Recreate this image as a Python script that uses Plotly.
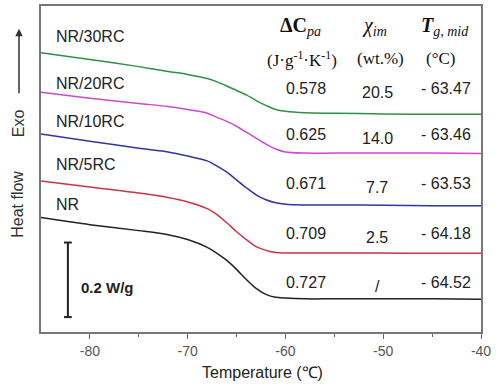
import plotly.graph_objects as go

# ---------------- data ----------------
temperature = [-85, -80, -75, -72, -70, -68, -67, -66, -65, -64, -63, -62, -61, -60, -58, -55, -50, -45, -40]

# stacked heat flow (W/g, curves offset vertically)
hf_nr   = [0.307, 0.288, 0.272, 0.261, 0.248, 0.227, 0.211, 0.192, 0.168, 0.141, 0.117, 0.101, 0.093, 0.091, 0.089, 0.089, 0.089, 0.089, 0.088]
hf_nr5  = [0.405, 0.389, 0.373, 0.361, 0.349, 0.331, 0.315, 0.293, 0.269, 0.248, 0.229, 0.219, 0.213, 0.212, 0.212, 0.212, 0.212, 0.211, 0.211]
hf_nr10 = [0.531, 0.512, 0.493, 0.483, 0.472, 0.459, 0.445, 0.429, 0.408, 0.387, 0.368, 0.355, 0.347, 0.343, 0.341, 0.341, 0.340, 0.339, 0.339]
hf_nr20 = [0.643, 0.627, 0.613, 0.605, 0.597, 0.587, 0.576, 0.565, 0.552, 0.536, 0.520, 0.504, 0.491, 0.483, 0.480, 0.480, 0.480, 0.480, 0.479]
hf_nr30 = [0.749, 0.731, 0.712, 0.699, 0.691, 0.680, 0.671, 0.660, 0.648, 0.636, 0.621, 0.608, 0.597, 0.592, 0.588, 0.587, 0.585, 0.584, 0.584]

series_names = ["NR", "NR/5RC", "NR/10RC", "NR/20RC", "NR/30RC"]
series_values = [hf_nr, hf_nr5, hf_nr10, hf_nr20, hf_nr30]
series_colors = ["#222222", "#cc3344", "#3434a6", "#cc48cc", "#2f9048"]

dcp_values = ["0.727", "0.709", "0.671", "0.625", "0.578"]
chi_values = ["/", "2.5", "7.7", "14.0", "20.5"]
tg_values = ["- 64.52", "- 64.18", "- 63.53", "- 63.46", "- 63.47"]

x_tickvals = [-80, -70, -60, -50, -40]
x_ticktext = ["-80", "-70", "-60", "-50", "-40"]
x_minor = [-75, -65, -55, -45]

scale_bar_value = 0.2  # W/g

# ---------------- layout helpers ----------------
W, H = 500, 386
L, R, T, B = 41, 481, 4, 332
YMAX = (B - T) * 0.2 / 75.0


def px(x):  # pixel x -> paper
    return (x - L) / (R - L)


def py(y):  # pixel y -> paper
    return (B - y) / (B - T)


fig = go.Figure()
for name, vals, col in zip(series_names, series_values, series_colors):
    fig.add_trace(go.Scatter(x=temperature, y=vals, mode="lines", name=name,
                             line=dict(color=col, width=1.5, shape="spline", smoothing=0.8),
                             showlegend=False, hoverinfo="skip"))

ann = []
sans = "Liberation Sans, Arial, sans-serif"
serif = "Liberation Serif, Times New Roman, serif"

# series labels (left)
label_rows = [204, 163, 120, 82, 35]
for name, yy in zip(series_names, label_rows):
    ann.append(dict(x=px(54), y=py(yy), xref="paper", yref="paper", text=name, showarrow=False,
                    xanchor="left", yanchor="middle", font=dict(family=sans, size=16, color="#222")))

# table values
value_rows = [282, 233, 183, 133, 87]
for d, c, t, yy in zip(dcp_values, chi_values, tg_values, value_rows):
    ann.append(dict(x=px(306), y=py(yy), xref="paper", yref="paper", text=d, showarrow=False,
                    xanchor="center", yanchor="middle", font=dict(family=sans, size=16, color="#222")))
    ann.append(dict(x=px(377), y=py(yy + 4), xref="paper", yref="paper", text=c, showarrow=False,
                    xanchor="center", yanchor="middle", font=dict(family=sans, size=16, color="#222")))
    ann.append(dict(x=px(446), y=py(yy), xref="paper", yref="paper", text=t, showarrow=False,
                    xanchor="center", yanchor="middle", font=dict(family=sans, size=16, color="#222")))

# table headers
headers1 = [(300, "<b>ΔC</b><sub><i>pa</i></sub>"), (374, "<i>χ</i><sub><i>im</i></sub>"),
            (445, "<b><i>T</i></b><sub><i>g, mid</i></sub>")]
headers2 = [(302, "(J·g<sup>-1</sup>·K<sup>-1</sup>)"), (380, "(wt.%)"), (440, "(°C)")]
for xx, tx in headers1:
    ann.append(dict(x=px(xx), y=py(25), xref="paper", yref="paper", text=tx, showarrow=False,
                    xanchor="center", yanchor="middle", font=dict(family=serif, size=20, color="#111")))
for xx, tx in headers2:
    ann.append(dict(x=px(xx), y=py(57), xref="paper", yref="paper", text=tx, showarrow=False,
                    xanchor="center", yanchor="middle", font=dict(family=serif, size=17, color="#111")))

# y-axis text and arrow
ann.append(dict(x=px(18), y=py(204), xref="paper", yref="paper", text="Heat flow", showarrow=False,
                textangle=-90, xanchor="center", yanchor="middle", font=dict(family=sans, size=16, color="#333")))
ann.append(dict(x=px(18), y=py(122), xref="paper", yref="paper", text="Exo", showarrow=False,
                textangle=-90, xanchor="center", yanchor="middle", font=dict(family=sans, size=16, color="#333")))
ann.append(dict(x=px(19), y=py(27), xref="paper", yref="paper", ax=0, ay=66, axref="pixel", ayref="pixel",
                text="", showarrow=True, arrowhead=2, arrowsize=1, arrowwidth=1.5, arrowcolor="#333"))

# x title
ann.append(dict(x=px(262), y=py(373), xref="paper", yref="paper", text="Temperature (℃)", showarrow=False,
                xanchor="center", yanchor="middle", font=dict(family=sans, size=16, color="#222")))

# scale bar label
ann.append(dict(x=px(79), y=py(287), xref="paper", yref="paper", text="<b>0.2 W/g</b>", showarrow=False,
                xanchor="left", yanchor="middle", font=dict(family=sans, size=15, color="#222")))

# scale bar shapes (data units for its length)
bar_x = -82.25
bar_bottom = 0.04
bar_top = bar_bottom + scale_bar_value
shapes = [
    dict(type="line", x0=bar_x, x1=bar_x, y0=bar_bottom, y1=bar_top, xref="x", yref="y",
         line=dict(color="#222", width=2)),
    dict(type="line", x0=bar_x - 0.4, x1=bar_x + 0.4, y0=bar_top, y1=bar_top, xref="x", yref="y",
         line=dict(color="#222", width=2)),
    dict(type="line", x0=bar_x - 0.4, x1=bar_x + 0.4, y0=bar_bottom, y1=bar_bottom, xref="x", yref="y",
         line=dict(color="#222", width=2)),
]

fig.update_layout(
    width=W, height=H,
    margin=dict(l=L, r=W - R, t=T, b=H - B, pad=0),
    paper_bgcolor="white", plot_bgcolor="white",
    annotations=ann, shapes=shapes,
    xaxis=dict(range=[-85, -40], tickvals=x_tickvals, ticktext=x_ticktext, ticks="outside", ticklen=5,
               tickwidth=1.2, tickcolor="#666", showline=True, linecolor="#777", linewidth=1.5, mirror=True,
               showgrid=False, zeroline=False, tickfont=dict(family=sans, size=14, color="#555"),
               minor=dict(tickvals=x_minor, ticks="outside", ticklen=3, tickcolor="#666", tickwidth=1.2)),
    yaxis=dict(range=[0, YMAX], showticklabels=False, ticks="", showline=True, linecolor="#777",
               linewidth=1.5, mirror=True, showgrid=False, zeroline=False),
)

fig.write_html("out.html", config={"displayModeBar": False},
               post_script="document.body.style.margin='0';document.body.style.overflow='hidden';")
